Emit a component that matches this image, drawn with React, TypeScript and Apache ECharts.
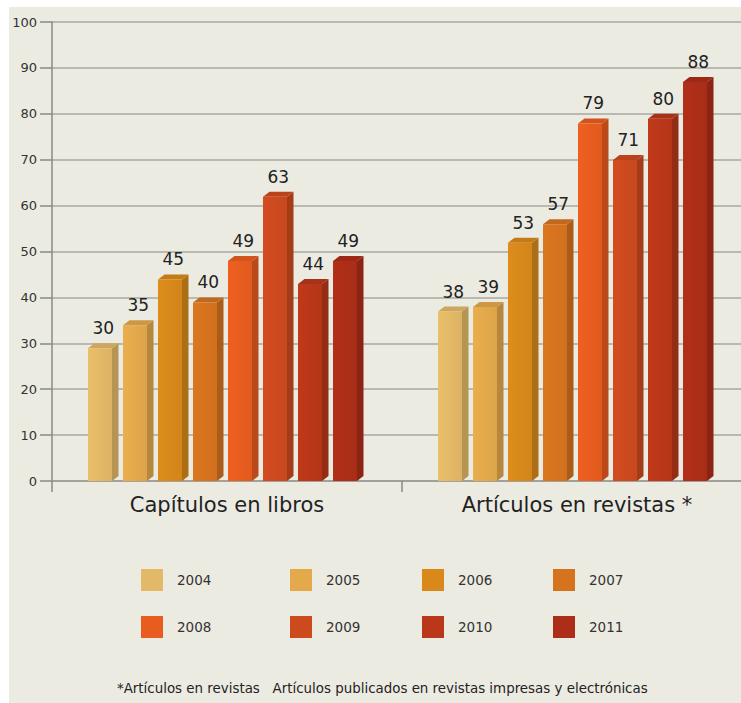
import React, { useEffect, useRef } from "react";
import * as echarts from "echarts";

const categories = ["Capítulos en libros", "Artículos en revistas *"];
const years = ["2004", "2005", "2006", "2007", "2008", "2009", "2010", "2011"];
const libros = [30, 35, 45, 40, 49, 63, 44, 49];
const revistas = [38, 39, 53, 57, 79, 71, 80, 88];
const yearColors = ["#e3b967", "#e3a94b", "#d8891a", "#d6731f", "#e85d1f", "#cd4a1f", "#ba3719", "#ad2e18"];
const yTicks = [0, 10, 20, 30, 40, 50, 60, 70, 80, 90, 100];
const footnote = "*Artículos en revistas   Artículos publicados en revistas impresas y electrónicas";

const FONT = "DejaVu Sans";

function shade(hex: string, f: number): string {
  const n = parseInt(hex.slice(1), 16);
  const r = Math.round(((n >> 16) & 255) * f);
  const g = Math.round(((n >> 8) & 255) * f);
  const b = Math.round((n & 255) * f);
  return "rgb(" + Math.min(255, r) + "," + Math.min(255, g) + "," + Math.min(255, b) + ")";
}

const legendLefts = [132, 281, 413, 544];

export default function App() {
  const ref = useRef<HTMLDivElement>(null);
  useEffect(() => {
    if (!ref.current) return;
    const chart = echarts.init(ref.current, null, { renderer: "svg" });
    const series = years.map((y, idx) => {
      const color = yearColors[idx];
      return {
        type: "custom",
        name: y,
        itemStyle: { color },
        encode: { x: 0, y: 1 },
        data: [
          [0, libros[idx]],
          [1, revistas[idx]],
        ],
        renderItem: (params: any, api: any) => {
          const cat = api.value(0);
          const val = api.value(1);
          const base = api.coord([cat, 0]);
          const top = api.coord([cat, val]);
          const band = api.size([1, 0])[0];
          const k = band / 350;
          const pitch = 35 * k;
          const fw = 24 * k;
          const dx = 6.5 * k;
          const dy = 5;
          const cx = base[0] + (params.seriesIndex - 3.5) * pitch - 4.5 * k;
          const x0 = cx - fw / 2;
          const x1 = cx + fw / 2;
          const yb = base[1];
          const yt = top[1];
          const yf = yt + dy;
          return {
            type: "group",
            children: [
              {
                type: "polygon",
                shape: { points: [[x1, yf], [x1 + dx, yt], [x1 + dx, yb - dy], [x1, yb]] },
                style: { fill: shade(color, 0.8) },
              },
              {
                type: "polygon",
                shape: { points: [[x0, yf], [x0 + dx, yt], [x1 + dx, yt], [x1, yf]] },
                style: { fill: shade(color, 0.9) },
              },
              {
                type: "rect",
                shape: { x: x0, y: yf, width: fw, height: yb - yf },
                style: {
                  fill: {
                    type: "linear",
                    x: 0, y: 0, x2: 1, y2: 0,
                    colorStops: [
                      { offset: 0, color: shade(color, 1.03) },
                      { offset: 1, color: shade(color, 0.97) },
                    ],
                  },
                },
              },
              {
                type: "text",
                style: {
                  text: String(val),
                  x: cx + dx / 2,
                  y: yt - 15,
                  align: "center",
                  verticalAlign: "middle",
                  fontSize: 17,
                  fontFamily: FONT,
                  fill: "#222",
                },
              },
            ],
          };
        },
      };
    });

    const legends = legendLefts.map((left, i) => ({
      data: [years[i], years[i + 4]],
      orient: "vertical",
      left,
      top: 562,
      padding: 0,
      itemWidth: 22,
      itemHeight: 22,
      itemGap: 25,
      icon: "rect",
      selectedMode: false,
      textStyle: { fontFamily: FONT, fontSize: 13.5, color: "#333", padding: [0, 0, 0, 9] },
    }));

    chart.setOption({
      animation: false,
      backgroundColor: "#ecebe2",
      grid: { left: 43, right: 0, top: 15, bottom: 222, containLabel: false },
      xAxis: {
        type: "category",
        data: categories,
        axisLine: { lineStyle: { color: "#9a9a94", width: 1.5 } },
        axisTick: { show: true, length: 11, lineStyle: { color: "#8a8a86", width: 1.5 } },
        axisLabel: { fontFamily: FONT, fontSize: 21, color: "#222", margin: 13 },
      },
      yAxis: {
        type: "value",
        min: yTicks[0],
        max: yTicks[yTicks.length - 1],
        interval: 10,
        axisLine: { show: true, lineStyle: { color: "#8a8a86", width: 1.5 } },
        axisTick: { show: true, length: 12, lineStyle: { color: "#8a8a86", width: 1.5 } },
        axisLabel: { fontFamily: FONT, fontSize: 13, color: "#333", margin: 15 },
        splitLine: { lineStyle: { color: "#a9a9a2", width: 1.5 } },
      },
      legend: legends,
      graphic: [
        {
          type: "text",
          left: 108,
          top: 675,
          style: { text: footnote, fontFamily: FONT, fontSize: 13.4, fill: "#222" },
        },
      ],
      series,
    });
    return () => chart.dispose();
  }, []);

  return (
    <div
      style={{
        position: "absolute",
        left: 9,
        top: 7,
        width: 732,
        height: 696,
        overflow: "hidden",
        background: "#ecebe2",
      }}
    >
      <div ref={ref} style={{ width: 743, height: 696 }} />
    </div>
  );
}
